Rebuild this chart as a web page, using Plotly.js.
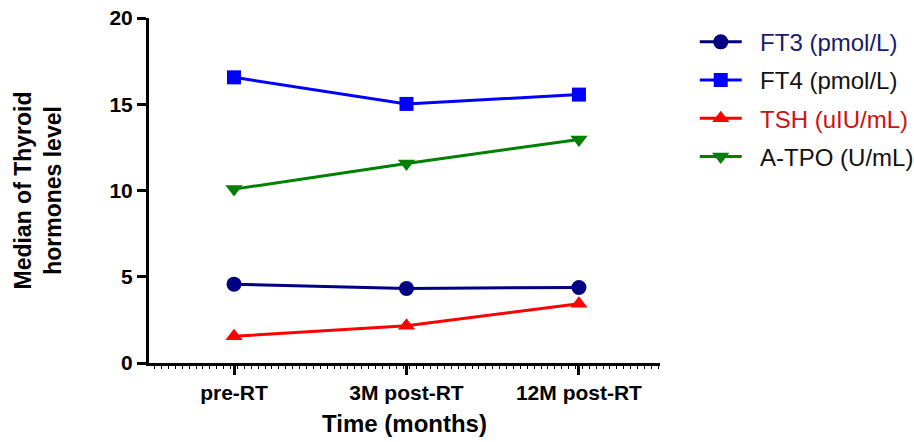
<!DOCTYPE html>
<html>
<head>
<meta charset="utf-8">
<script src="https://cdn.plot.ly/plotly-3.0.1.min.js"></script>
<style>html,body{margin:0;padding:0;background:#fff;}#chart{width:914px;height:442px;}</style>
</head>
<body>
<div id="chart"></div>
<script>
const categories = ["pre-RT", "3M post-RT", "12M post-RT"];
const ft3 = [4.57, 4.32, 4.38];
const ft4 = [16.56, 15.02, 15.56];
const tsh = [1.55, 2.16, 3.43];
const atpo = [10.08, 11.57, 12.96];
const yTicks = [0, 5, 10, 15, 20];

const xIdx = categories.map((c, i) => i);

function series(name, y, color, symbol, size, textColor, grp) {
  return {
    x: xIdx, y: y, type: 'scatter', mode: 'lines+markers',
    name: '&nbsp;&nbsp;<span style="color:' + textColor + '">' + name + '</span>',
    legendgroup: grp,
    line: {color: color, width: 3},
    marker: {color: color, symbol: symbol, size: size}
  };
}

const data = [
  series('FT3 (pmol/L)', ft3, '#000080', 'circle', 15, '#1a1a6e', 'a'),
  series('FT4 (pmol/L)', ft4, '#0000ff', 'square', 14, '#111111', 'b'),
  series('TSH (uIU/mL)', tsh, '#ff0000', 'triangle-up', 15, '#d01010', 'c'),
  series('A-TPO (U/mL)', atpo, '#008000', 'triangle-down', 15, '#111111', 'd')
];

const layout = {
  width: 914, height: 442,
  margin: {l: 149, r: 254, t: 18, b: 79, autoexpand: false},
  paper_bgcolor: '#fff', plot_bgcolor: '#fff',
  font: {family: 'Liberation Sans, Arial, sans-serif', color: '#000'},
  xaxis: {
    range: [-0.493, 2.47],
    tickvals: xIdx, ticktext: categories,
    showgrid: false, zeroline: false,
    showline: true, linecolor: '#000', linewidth: 3,
    ticks: 'outside', ticklen: 9, tickwidth: 3, tickcolor: '#000',
    tickfont: {size: 21, family: 'Liberation Sans, Arial, sans-serif', weight: 'bold'},
    minor: {ticks: 'outside', ticklen: 3, tickwidth: 1, tickcolor: '#000', tick0: -0.5, dtick: 0.04},
    title: {text: '<b>Time (months)</b>', font: {size: 24}, standoff: 12}
  },
  yaxis: {
    range: [0, 20],
    tickvals: yTicks,
    showgrid: false, zeroline: false,
    showline: true, linecolor: '#000', linewidth: 3,
    ticks: 'outside', ticklen: 9, tickwidth: 3, tickcolor: '#000',
    tickfont: {size: 21, family: 'Liberation Sans, Arial, sans-serif', weight: 'bold'},
    title: {text: '<b>Median of Thyroid<br>hormones level</b>', font: {size: 23}, standoff: 42}
  },
  legend: {
    x: 1.068, xanchor: 'left', y: 0.995, yanchor: 'top',
    font: {size: 24, family: 'Liberation Sans, Arial, sans-serif'},
    bgcolor: 'rgba(0,0,0,0)', traceorder: 'grouped', tracegroupgap: 4,
    itemwidth: 42
  },
  showlegend: true
};

Plotly.newPlot('chart', data, layout, {displayModeBar: false, staticPlot: true});
</script>
</body>
</html>
